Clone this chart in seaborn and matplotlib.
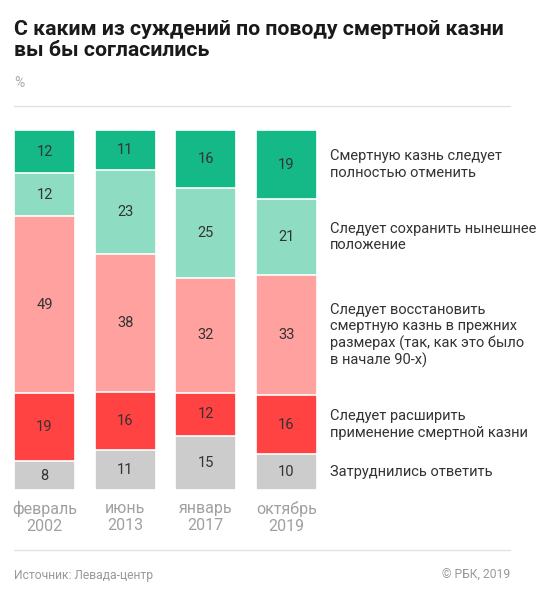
import numpy as np
import pandas as pd
import matplotlib
matplotlib.use("Agg")
import matplotlib.pyplot as plt
import matplotlib.transforms as mtransforms
import seaborn as sns

sns.set_style("white")
plt.rcParams['font.family'] = ['Roboto', 'DejaVu Sans']

# Data (percent), segments listed bottom to top
periods = ["февраль\n2002", "июнь\n2013", "январь\n2017", "октябрь\n2019"]
hard_to_say = [8, 11, 15, 10]
expand = [19, 16, 12, 16]
restore = [49, 38, 32, 33]
keep = [12, 23, 25, 21]
abolish = [12, 11, 16, 19]

series = [hard_to_say, expand, restore, keep, abolish]
answers = [
    "Затруднились ответить",
    "Следует расширить\nприменение смертной казни",
    "Следует восстановить\nсмертную казнь в прежних\nразмерах (так, как это было\nв начале 90-х)",
    "Следует сохранить нынешнее\nположение",
    "Смертную казнь следует\nполностью отменить",
]
colors = ["#cccccc", "#ff4343", "#ffa19e", "#8eddc3", "#14b987"]

W, H = 548, 600
fig = plt.figure(figsize=(W / 100, H / 100), dpi=100)

# axes placed in pixel coords: bars from x=14 to 317, y=130 to 490
bar_w = 0.757
ax = fig.add_axes([14 / W, 1 - 490 / H, 303 / W, 360 / H])

vals = np.array(series, dtype=float)
totals = vals.sum(axis=0)
shares = vals / totals
cum = np.cumsum(shares, axis=0)

# draw cumulative bars from tallest to shortest so they stack visually
for k in range(len(series) - 1, -1, -1):
    df = pd.DataFrame({"period": periods, "top": cum[k]})
    sns.barplot(data=df, x="period", y="top", color=colors[k], saturation=1,
                width=bar_w, edgecolor="white", linewidth=1.2, ax=ax)

# value labels inside segments
for k in range(len(series)):
    for i in range(len(periods)):
        mid = cum[k, i] - shares[k, i] / 2
        ax.text(i, mid, str(series[k][i]), ha="center", va="center",
                fontsize=10.5, color="#333333")

ax.set_xlim(-bar_w / 2, 3 + bar_w / 2)
ax.set_ylim(0, 1)
ax.set_xlabel("")
ax.set_ylabel("")
ax.set_yticks([])
ax.tick_params(axis="x", length=0, pad=8, labelsize=11.5, labelcolor="#a0a0a0")
for lab in ax.get_xticklabels():
    lab.set_linespacing(1.15)
for s in ax.spines.values():
    s.set_visible(False)

# answer labels on the right, aligned with the last bar's segments
trans = mtransforms.blended_transform_factory(fig.transFigure, ax.transData)
for k in range(len(series)):
    mid = cum[k, -1] - shares[k, -1] / 2
    ax.text(330 / W, mid, answers[k], transform=trans, ha="left", va="center",
            fontsize=10.5, color="#333333", linespacing=1.2, clip_on=False)

# title, unit, rules, footer
fig.text(14 / W, 1 - 20 / H, "С каким из суждений по поводу смертной казни\nвы бы согласились",
         ha="left", va="top", fontsize=15.3, fontweight="bold", color="#1a1a1a",
         linespacing=1.1)
fig.text(14 / W, 1 - 83 / H, "%", ha="left", va="center", fontsize=10, color="#aaaaaa")
fig.add_artist(plt.Line2D([14 / W, 510 / W], [1 - 106 / H, 1 - 106 / H],
                          color="#e2e2e2", linewidth=1))
fig.add_artist(plt.Line2D([14 / W, 510 / W], [1 - 550 / H, 1 - 550 / H],
                          color="#e2e2e2", linewidth=1))
fig.text(14 / W, 1 - 575 / H, "Источник: Левада-центр", ha="left", va="center",
         fontsize=8.7, color="#999999")
fig.text(510 / W, 1 - 575 / H, "© РБК, 2019", ha="right", va="center",
         fontsize=8.7, color="#999999")

fig.savefig("out.png", dpi=100, facecolor="white")
